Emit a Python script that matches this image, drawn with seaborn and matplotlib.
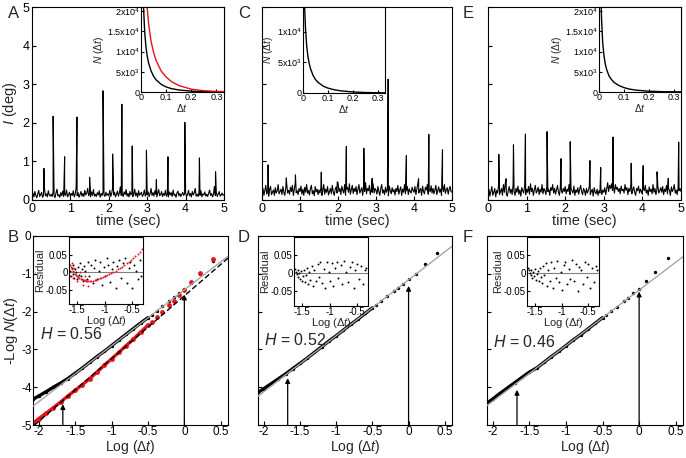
import numpy as np
import pandas as pd
import matplotlib
matplotlib.use("Agg")
import matplotlib.pyplot as plt
import seaborn as sns

# ---------------------------------------------------------------- data
SAMPLE_DT = 0.025  # s, sampling interval of the traces

# baseline fluctuation of the traces (hundredths of a degree)
A_base = [10,18,8,22,12,6,15,25,9,14,20,7,12,30,11,16,8,24,13,10,
          15,9,21,12,6,18,28,10,14,7,19,11,23,9,16,12,26,8,13,20,
          9,17,12,24,8,15,33,11,19,7,14,22,10,17,9,25,13,18,30,11,
          16,8,21,12,27,10,15,9,19,13,24,7,17,11,22,14,9,20,12,16,
          11,25,9,17,32,13,20,8,15,23,10,18,34,12,16,9,21,14,27,10,
          17,8,22,13,19,9,15,28,11,18,7,24,12,16,20,9,14,26,10,18,
          13,21,9,16,30,12,19,10,24,15,8,18,27,11,14,22,9,17,12,25,
          10,16,8,21,13,19,9,26,12,15,7,18,23,11,17,9,14,20,12,16,
          19,9,14,25,11,17,8,22,13,18,30,10,15,9,20,12,24,8,16,13,
          21,10,15,9,18,26,12,17,8,14,35,11,19,9,16,22,10,13,18,12,14]
C_base = [18,30,12,25,38,15,22,10,28,35,14,20,26,12,32,18,24,40,16,22,
          28,14,35,20,12,30,42,18,25,15,33,22,38,12,27,45,19,24,14,30,
          22,36,15,28,12,33,20,40,17,25,13,30,38,16,24,11,35,21,28,14,
          26,18,32,12,24,40,15,28,20,35,13,22,30,16,38,21,12,27,34,18,
          45,22,30,14,36,25,18,40,12,28,33,20,42,15,26,38,17,30,22,35,
          14,28,40,18,25,32,12,36,22,45,16,30,24,38,14,27,20,42,18,30,
          25,15,35,22,12,30,40,18,26,14,33,20,28,11,36,24,16,32,21,27,
          13,30,22,38,15,26,34,12,28,20,40,16,24,35,14,29,22,18,33,25,
          20,35,14,28,42,18,25,30,12,36,22,16,33,26,40,15,28,21,37,18,
          30,16,26,38,14,24,34,20,28,12,36,22,40,17,26,32,15,28,35,22,20]
E_base = [15,28,10,22,35,12,20,30,8,25,18,38,14,22,30,12,40,20,45,16,
          10,25,35,18,28,14,40,22,12,30,20,36,15,26,10,32,24,18,38,14,
          28,20,35,15,42,22,30,12,26,38,18,24,33,14,28,20,40,16,30,24,
          14,36,22,28,12,32,25,40,18,30,15,26,38,20,12,34,24,18,30,22,
          35,16,28,22,40,14,30,24,18,36,12,26,20,32,15,28,38,22,14,30,
          24,12,30,18,26,35,14,22,28,10,32,20,16,28,12,24,18,30,14,26,
          20,32,14,28,45,22,38,30,42,25,35,18,40,28,33,22,30,16,36,24,
          28,18,40,25,32,14,30,22,38,16,26,34,20,12,30,24,36,18,28,22,
          15,30,24,38,18,26,12,34,22,28,16,40,20,30,14,26,36,18,24,32,
          20,35,14,28,22,38,16,30,25,12,34,22,28,40,18,26,14,32,24,30,22]

# spikes: time (s) and height (deg)
A_peak_t = [0.31, 0.55, 0.85, 1.17, 1.50, 1.85, 2.10, 2.34, 2.61, 2.98, 3.24, 3.54, 3.98, 4.36, 4.78]
A_peak_h = [0.82, 2.17, 1.12, 2.15, 0.59, 2.83, 1.19, 2.48, 1.40, 1.29, 0.53, 1.12, 2.01, 1.09, 0.73]
C_peak_t = [0.16, 0.64, 0.88, 1.56, 1.98, 2.22, 2.68, 2.90, 3.32, 3.80, 4.12, 4.39, 4.75]
C_peak_h = [0.91, 0.57, 0.65, 0.72, 0.47, 1.39, 1.34, 0.56, 3.13, 1.15, 0.55, 1.70, 1.30]
E_peak_t = [0.28, 0.47, 0.66, 0.97, 1.53, 1.89, 2.13, 2.64, 2.92, 3.24, 3.71, 4.02, 4.38, 4.67, 4.94]
E_peak_h = [1.18, 0.55, 1.43, 1.71, 1.77, 1.07, 1.51, 1.02, 0.84, 1.63, 0.95, 0.89, 0.73, 0.56, 1.50]

# inset distributions N(dt)
inset_dt = [0.005, 0.008, 0.01, 0.015, 0.02, 0.025, 0.03, 0.04, 0.05, 0.06,
            0.08, 0.1, 0.12, 0.15, 0.2, 0.25, 0.3, 0.33]
A_N_black = [34000, 26000, 21000, 14500, 11000, 8800, 7200, 5200, 3900, 3000,
             1900, 1250, 850, 500, 220, 100, 50, 30]
A_N_red = [80000, 55000, 45000, 32000, 25000, 20500, 17000, 12500, 9800, 7800,
           5200, 3700, 2600, 1600, 700, 320, 150, 100]
C_N = [16000, 12500, 10500, 7600, 5900, 4800, 4000, 2900, 2200, 1750,
       1150, 800, 580, 360, 170, 80, 40, 25]
E_N = [32000, 23000, 18500, 12000, 9000, 7000, 5700, 4000, 3100, 2400,
       1600, 1100, 750, 450, 200, 90, 45, 30]

# bottom row: -log N(dt) vs log(dt)
log_dt = [-2.08, -2.0, -1.9, -1.8, -1.7, -1.6, -1.5, -1.4, -1.3, -1.2, -1.1, -1.0,
          -0.9, -0.8, -0.7, -0.6, -0.5, -0.447, -0.380, -0.301, -0.204, -0.146,
          -0.079, 0.0, 0.097, 0.222, 0.398]
B_black = [-4.32, -4.23, -4.12, -4.00, -3.89, -3.77, -3.63, -3.49, -3.34, -3.19, -3.05, -2.90,
           -2.75, -2.60, -2.45, -2.30, -2.16, -2.08, -1.98, -1.86, -1.71, -1.62,
           -1.51, -1.39, -1.24, -1.00, -0.66]
B_red = [-4.95, -4.83, -4.69, -4.54, -4.39, -4.23, -4.08, -3.93, -3.77, -3.60, -3.42, -3.25,
         -3.08, -2.90, -2.73, -2.54, -2.36, -2.27, -2.15, -2.00, -1.82, -1.71,
         -1.57, -1.43, -1.22, -0.97, -0.61]
D_black = [-4.14, -4.04, -3.91, -3.78, -3.65, -3.51, -3.37, -3.23, -3.08, -2.93, -2.78, -2.64,
           -2.49, -2.34, -2.20, -2.05, -1.90, -1.82, -1.72, -1.60, -1.46, -1.37,
           -1.27, -1.15, -1.00, -0.75, -0.45]
F_black = [-4.42, -4.31, -4.16, -4.02, -3.88, -3.74, -3.60, -3.49, -3.34, -3.19, -3.05, -2.90,
           -2.75, -2.61, -2.46, -2.31, -2.16, -2.09, -1.99, -1.87, -1.72, -1.63,
           -1.52, -1.41, -1.19, -0.95, -0.59]
# linear fits (slope, intercept)
B_fit = (1.48, -1.424)
B_red_fit = (1.66, -1.583)
D_fit = (1.48, -1.16)
F_fit = (1.47, -1.43)
H_values = ["0.56", "0.52", "0.46"]
arrow_x = [-1.67, 0.0]
B_arrow_tip = [-4.45, -1.55]
D_arrow_tip = [-3.76, -1.32]
F_arrow_tip = [-4.07, -1.47]

# residuals
res_x = [-1.63,-1.61,-1.6,-1.58,-1.57,-1.55,-1.54,-1.52,-1.5,-1.49,-1.47,-1.45,-1.43,-1.41,-1.39,
         -1.37,-1.35,-1.33,-1.3,-1.28,-1.25,-1.22,-1.2,-1.17,-1.14,-1.11,-1.08,-1.05,-1.02,-0.99,
         -0.96,-0.93,-0.9,-0.87,-0.84,-0.8,-0.77,-0.74,-0.7,-0.67,-0.63,-0.6,-0.56,-0.53,-0.5,
         -0.46,-0.43,-0.39,-0.36,-0.33]
B_res_black = [0.005,-0.01,0.012,-0.005,0.02,-0.015,0.008,0.0,-0.02,0.015,-0.008,0.025,-0.012,0.01,-0.025,
               0.018,0.003,-0.018,0.03,-0.01,0.02,-0.03,0.012,0.035,-0.02,0.005,0.028,-0.035,0.015,-0.012,
               0.04,0.022,-0.028,0.01,0.03,-0.045,0.018,0.035,-0.015,0.025,0.04,-0.03,0.012,0.03,-0.045,
               0.02,0.005,-0.02,0.035,-0.01]
D_res = [0.012,0.005,-0.003,0.008,-0.01,0.0,-0.015,0.006,-0.02,-0.008,0.01,-0.025,-0.005,0.015,-0.03,
         0.003,-0.018,0.02,-0.035,0.008,-0.022,0.025,-0.01,0.03,-0.028,0.012,-0.04,0.032,0.005,-0.02,
         0.028,-0.035,0.015,0.03,-0.012,0.022,-0.03,0.035,0.005,-0.025,0.018,0.03,-0.04,0.01,0.025,
         -0.015,0.02,-0.03,0.008,0.015]
F_res = [0.015,0.008,0.002,-0.005,0.01,-0.012,0.004,-0.008,0.012,-0.018,-0.003,0.006,-0.022,0.015,-0.01,
         -0.028,0.02,-0.005,0.028,-0.035,0.01,-0.02,0.03,-0.04,0.015,-0.012,0.035,-0.025,0.005,-0.045,
         0.022,0.03,-0.03,0.012,-0.015,0.038,-0.02,0.025,-0.05,0.018,0.008,-0.03,0.032,-0.01,0.025,
         -0.04,0.015,-0.025,0.02,0.01]
B_res_red_x = [-1.64,-1.62,-1.6,-1.58,-1.56,-1.54,-1.52,-1.5,-1.48,-1.46,-1.44,-1.42,-1.4,-1.38,-1.36,
               -1.34,-1.32,-1.3,-1.27,-1.24,-1.21,-1.18,-1.15,-1.12,-1.09,-1.06,-1.03,-1.0,-0.96,-0.92,
               -0.88,-0.84,-0.8,-0.76,-0.72,-0.68,-0.64,-0.6,-0.56,-0.52,-0.48,-0.44,-0.4,-0.36,-0.32,
               -1.63,-1.6,-1.58,-1.55,-1.5,-1.45,-1.4,-1.35,-1.3]
B_res_red = [0.022,0.015,0.01,0.004,0.0,-0.004,-0.008,-0.011,-0.013,-0.016,-0.018,-0.02,-0.021,-0.022,-0.023,
             -0.024,-0.025,-0.025,-0.026,-0.025,-0.024,-0.023,-0.021,-0.019,-0.017,-0.015,-0.013,-0.011,-0.008,-0.005,
             -0.002,0.001,0.004,0.008,0.012,0.016,0.02,0.025,0.03,0.035,0.04,0.046,0.052,0.058,0.065,
             -0.01,0.025,-0.015,0.012,-0.025,0.0,-0.035,-0.01,-0.04]

# ---------------------------------------------------------------- style
sns.set_theme(style="ticks")
plt.rcParams.update({
    "font.family": ["Liberation Sans", "DejaVu Sans"],
    "mathtext.fontset": "custom",
    "mathtext.rm": "Liberation Sans",
    "mathtext.it": "Liberation Sans:italic",
    "mathtext.bf": "Liberation Sans:bold",
    "axes.unicode_minus": False,
    "axes.linewidth": 0.8,
    "axes.edgecolor": "black",
    "xtick.direction": "in",
    "ytick.direction": "in",
    "xtick.major.size": 3,
    "ytick.major.size": 3,
    "xtick.major.width": 0.8,
    "ytick.major.width": 0.8,
    "xtick.color": "black",
    "ytick.color": "black",
})

RED = "#e3141c"
GRAY = "#a6a6a6"
W, Hpx = 686, 458
fig = plt.figure(figsize=(W / 100, Hpx / 100), dpi=100)


def box(x0, y0, x1, y1):
    return [x0 / W, 1 - y1 / Hpx, (x1 - x0) / W, (y1 - y0) / Hpx]


def trace_frame(base, pt, ph):
    t = np.arange(len(base)) * SAMPLE_DT
    df = pd.concat([pd.DataFrame({"t": t, "I": np.array(base) / 100.0}),
                    pd.DataFrame({"t": pt, "I": ph})]).sort_values("t")
    return df


def top_panel(rect, base, pt, ph, ylab):
    ax = fig.add_axes(rect)
    df = trace_frame(base, pt, ph)
    sns.lineplot(data=df, x="t", y="I", ax=ax, color="black", lw=0.8,
                 estimator=None, sort=False)
    ax.set_xlim(0, 5)
    ax.set_ylim(0, 5)
    ax.set_xticks([0, 1, 2, 3, 4, 5])
    ax.set_yticks([0, 1, 2, 3, 4, 5])
    ax.tick_params(labelsize=9, pad=2)
    ax.set_xlabel("time (sec)", fontsize=10.5, labelpad=-0.5)
    if ylab:
        ax.set_ylabel("$I$ (deg)", fontsize=10.5, labelpad=2)
    else:
        ax.set_ylabel("")
        ax.set_yticklabels([])
    return ax


def top_inset(rect, curves, ytop, yticks, ylabels):
    ax = fig.add_axes(rect)
    for vals, col in curves:
        sns.lineplot(x=inset_dt, y=vals, ax=ax, color=col, lw=1.0,
                     estimator=None, sort=False)
    ax.set_xlim(0, 0.33)
    ax.set_ylim(0, ytop)
    ax.set_xticks([0, 0.1, 0.2, 0.3])
    ax.set_xticklabels(["0", "0.1", "0.2", "0.3"])
    ax.set_yticks(yticks)
    ax.set_yticklabels(ylabels)
    ax.tick_params(labelsize=6.5, pad=1, length=2)
    ax.set_xlabel("Δ$t$", fontsize=7.5, labelpad=0)
    ax.set_ylabel("$N$ (Δ$t$)", fontsize=7.5, labelpad=1)
    return ax


def bottom_panel(rect, series, fits, tips, hval, hpos, ylab):
    ax = fig.add_axes(rect)
    xs = np.array(log_dt)
    dense = xs <= -0.45
    for ys, col, ms in series:
        ys = np.array(ys)
        sns.lineplot(x=xs[dense], y=ys[dense], ax=ax, color=col, lw=2.4,
                     estimator=None, sort=False)
        sns.scatterplot(x=xs, y=ys, ax=ax, color=col, s=ms, linewidth=0,
                        edgecolor=None)
    for (slope, icpt), col, ls in fits:
        ax.axline((0, icpt), slope=slope, color=col, lw=1.0, ls=ls, zorder=3)
    for xa, tip in zip(arrow_x, tips):
        ax.annotate("", xy=(xa, tip), xytext=(xa, -5),
                    arrowprops=dict(arrowstyle="-|>", color="black", lw=0.9,
                                    mutation_scale=7, shrinkA=0, shrinkB=0))
    ax.text(hpos[0], hpos[1], "$H$ = " + hval, fontsize=11.5, va="center",
            ha="left")
    ax.set_xlim(-2.08, 0.6)
    ax.set_ylim(-5, 0)
    ax.set_xticks([-2, -1.5, -1, -0.5, 0, 0.5])
    ax.set_xticklabels(["-2", "-1.5", "-1", "-0.5", "0", "0.5"])
    ax.set_yticks([0, -1, -2, -3, -4, -5])
    ax.tick_params(labelsize=8.5, pad=1)
    ax.set_xlabel("Log (Δ$t$)", fontsize=10, labelpad=0)
    if ylab:
        ax.set_yticklabels(["0", "-1", "-2", "-3", "-4", "-5"])
        ax.set_ylabel("-Log $N$(Δ$t$)", fontsize=10.5, labelpad=1)
    else:
        ax.set_yticklabels([])
        ax.set_ylabel("")
    return ax


def bottom_inset(rect, sets):
    ax = fig.add_axes(rect)
    ax.axhline(0, color="#808080", lw=0.8, zorder=1)
    for xs, ys, col in sets:
        sns.scatterplot(x=xs, y=ys, ax=ax, color=col, s=2.0, linewidth=0,
                        edgecolor=None, zorder=2)
    ax.set_xlim(-1.65, -0.3)
    ax.set_ylim(-0.09, 0.1)
    ax.set_xticks([-1.5, -1, -0.5])
    ax.set_xticklabels(["-1.5", "-1", "-0.5"])
    ax.set_yticks([-0.05, 0, 0.05])
    ax.set_yticklabels(["-0.05", "0", "0.05"])
    ax.tick_params(labelsize=7, pad=1, length=2)
    ax.set_xlabel("Log (Δ$t$)", fontsize=8, labelpad=-1)
    ax.set_ylabel("Residual", fontsize=8, labelpad=0)
    return ax


# top row
top_panel(box(32, 7, 224, 200), A_base, A_peak_t, A_peak_h, True)
top_panel(box(262, 7, 452, 200), C_base, C_peak_t, C_peak_h, False)
top_panel(box(488, 7, 681, 200), E_base, E_peak_t, E_peak_h, False)

t2 = [0, 5000, 10000, 15000, 20000]
l2 = ["0", "5x10$^3$", "1x10$^4$", "1.5x10$^4$", "2x10$^4$"]
top_inset(box(141, 7, 224, 92), [(A_N_black, "black"), (A_N_red, RED)], 21000, t2, l2)
top_inset(box(303, 7, 385, 93), [(C_N, "black")], 14000, t2[:3], l2[:3])
top_inset(box(599, 7, 681, 92), [(E_N, "black")], 21000, t2, l2)

# bottom row
bottom_panel(box(33, 236, 228, 425),
             [(B_black, "black", 6), (B_red, RED, 12)],
             [(B_fit, GRAY, "-"), (B_red_fit, "black", (0, (4, 2)))],
             B_arrow_tip, H_values[0], (-1.98, -2.6), True)
bottom_panel(box(258, 236, 452, 425), [(D_black, "black", 6)],
             [(D_fit, GRAY, "-")], D_arrow_tip, H_values[1], (-2.0, -2.75), False)
bottom_panel(box(487, 236, 683, 425), [(F_black, "black", 6)],
             [(F_fit, GRAY, "-")], F_arrow_tip, H_values[2], (-2.0, -2.8), False)

bottom_inset(box(69, 237, 143, 304), [(res_x, B_res_black, "black"),
                                      (B_res_red_x, B_res_red, RED)])
bottom_inset(box(294, 237, 368, 306), [(res_x, D_res, "black")])
bottom_inset(box(527, 237, 599, 306), [(res_x, F_res, "black")])

# panel letters
for lab, (px, py) in zip("ABCDEF", [(8, 14), (8, 238), (238, 14), (238, 238), (463, 14), (463, 238)]):
    fig.text(px / W, 1 - py / Hpx, lab, fontsize=12, ha="left", va="center")

fig.savefig("out.png", dpi=100)
